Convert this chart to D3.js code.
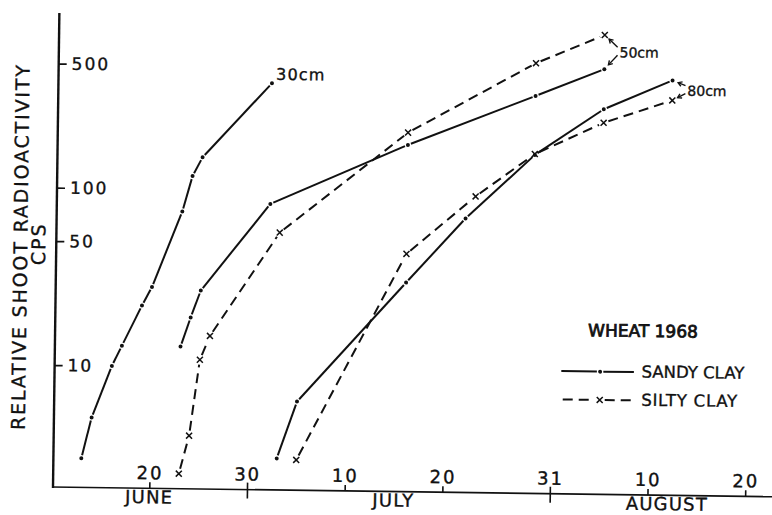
<!DOCTYPE html>
<html>
<head>
<meta charset="utf-8">
<script src="https://cdn.jsdelivr.net/npm/d3@7"></script>
<style>
  html, body { margin: 0; padding: 0; background: #fff; }
  svg { display: block; }
  text { font-family: "DejaVu Sans", sans-serif; fill: #111; stroke: #111; stroke-width: 0.35px; }
</style>
</head>
<body>
<svg id="chart" width="772" height="515"></svg>
<script>
// Wheat 1968: relative shoot radioactivity (counts per second) by sampling date,
// for tracer placed at 30, 50 and 80 cm in sandy clay and silty clay.
const sandy30Dates = ["1968-06-13", "1968-06-14", "1968-06-16", "1968-06-17", "1968-06-19", "1968-06-20", "1968-06-23", "1968-06-24", "1968-06-25", "1968-07-02"];
const sandy30Cps   = [3.0, 5.1, 10, 13, 22, 28, 75, 119, 152, 402];

const sandy50Dates = ["1968-06-23", "1968-06-24", "1968-06-25", "1968-07-02", "1968-07-16", "1968-07-29", "1968-08-05"];
const sandy50Cps   = [13, 19, 27, 84, 185, 357, 511];

const silty50Dates = ["1968-06-23", "1968-06-24", "1968-06-25", "1968-06-26", "1968-07-03", "1968-07-16", "1968-07-29", "1968-08-05"];
const silty50Cps   = [2.5, 4.1, 11, 15, 58, 217, 546, 797];

const sandy80Dates = ["1968-07-03", "1968-07-05", "1968-07-16", "1968-07-22", "1968-07-29", "1968-08-05", "1968-08-12"];
const sandy80Cps   = [3.1, 6.5, 31, 72, 166, 304, 447];

const silty80Dates = ["1968-07-05", "1968-07-16", "1968-07-23", "1968-07-29", "1968-08-05", "1968-08-12"];
const silty80Cps   = [3.05, 45, 96, 168, 255, 345];

const xTickDates  = ["1968-06-20", "1968-06-30", "1968-07-10", "1968-07-20", "1968-07-31", "1968-08-10", "1968-08-20"];
const xTickLabels = ["20", "30", "10", "20", "31", "10", "20"];
const monthEndDates = ["1968-06-30", "1968-07-31"];
const monthNames = ["JUNE", "JULY", "AUGUST"];
const monthLabelDates = ["1968-06-20", "1968-07-15", "1968-08-12"];

const yTickValues = [500, 100, 50, 10];
const yTickLabels = ["500", "100", "50", "10"];

const legendNames = ["SANDY CLAY", "SILTY CLAY"];
const legendSoils = ["sandy", "silty"];

const parse = d3.utcParse("%Y-%m-%d");

const x = d3.scaleUtc()
  .domain([parse("1968-06-20"), parse("1968-08-20")])
  .range([149.3, 745.2]);
const y = d3.scaleLog()
  .domain([2.057, 963])
  .range([487, 13]);

const INK = "#111";
const svg = d3.select("#chart");
// the whole drawing sits slightly askew on the sheet
const g = svg.append("g").attr("transform", "rotate(0.77 53 487)");

// ---- axes ----
g.append("line")
  .attr("x1", 53).attr("x2", 53).attr("y1", 13).attr("y2", 488)
  .attr("stroke", INK).attr("stroke-width", 2.4);
g.append("line")
  .attr("x1", 52).attr("x2", 800).attr("y1", 487).attr("y2", 487)
  .attr("stroke", INK).attr("stroke-width", 1.7);

const yAxis = d3.axisRight(y)
  .tickValues(yTickValues)
  .tickFormat((d, i) => yTickLabels[i])
  .tickSize(8).tickPadding(5);
const ya = g.append("g").attr("transform", "translate(53,0)").call(yAxis);
ya.select(".domain").remove();
ya.selectAll(".tick line").attr("stroke", INK).attr("stroke-width", 1.7);
ya.selectAll(".tick text")
  .attr("font-size", 17).attr("letter-spacing", 2).attr("fill", INK);

const monthEnds = new Set(monthEndDates.map(s => +parse(s)));
const xAxis = d3.axisTop(x)
  .tickValues(xTickDates.map(parse))
  .tickFormat((d, i) => xTickLabels[i])
  .tickSize(6).tickPadding(3).tickSizeOuter(0);
const xa = g.append("g").attr("transform", "translate(0,487)").call(xAxis);
xa.select(".domain").remove();
xa.selectAll(".tick line")
  .attr("stroke", INK).attr("stroke-width", 1.6)
  .attr("y1", d => monthEnds.has(+d) ? 9 : 0)
  .attr("y2", d => monthEnds.has(+d) ? -7 : -6);
xa.selectAll(".tick text")
  .attr("font-size", 18).attr("letter-spacing", 2).attr("fill", INK);

g.selectAll(".month")
  .data(monthNames)
  .join("text")
  .attr("class", "month")
  .attr("x", (d, i) => x(parse(monthLabelDates[i])))
  .attr("y", 502)
  .attr("text-anchor", "middle")
  .attr("font-size", 18)
  .attr("letter-spacing", 1.2)
  .text(d => d);

// axis title
g.append("text")
  .attr("transform", "translate(24,248) rotate(-90)")
  .attr("text-anchor", "middle")
  .attr("font-size", 19)
  .attr("textLength", 365)
  .attr("lengthAdjust", "spacing")
  .text("RELATIVE SHOOT RADIOACTIVITY");
g.append("text")
  .attr("transform", "translate(42,244) rotate(-90)")
  .attr("text-anchor", "middle")
  .attr("font-size", 19)
  .attr("letter-spacing", 2)
  .text("CPS");

// ---- series ----
const series = [
  { dates: sandy30Dates, cps: sandy30Cps, soil: "sandy" },
  { dates: sandy50Dates, cps: sandy50Cps, soil: "sandy" },
  { dates: silty50Dates, cps: silty50Cps, soil: "silty" },
  { dates: sandy80Dates, cps: sandy80Cps, soil: "sandy" },
  { dates: silty80Dates, cps: silty80Cps, soil: "silty" }
];

function brokenLine(sel, pts, soil) {
  const gap = soil === "sandy" ? 3.2 : 5;
  for (let i = 0; i < pts.length - 1; i++) {
    const [x0, y0] = pts[i], [x1, y1] = pts[i + 1];
    const L = Math.hypot(x1 - x0, y1 - y0);
    const ux = (x1 - x0) / L, uy = (y1 - y0) / L;
    sel.append("line")
      .attr("x1", x0 + ux * gap).attr("y1", y0 + uy * gap)
      .attr("x2", x1 - ux * gap).attr("y2", y1 - uy * gap)
      .attr("stroke", INK).attr("stroke-width", 2)
      .attr("stroke-linecap", "butt")
      .attr("stroke-dasharray", soil === "silty" ? "10,6" : null);
  }
}

function marker(sel, px, py, soil) {
  if (soil === "sandy") {
    sel.append("circle").attr("cx", px).attr("cy", py).attr("r", 2).attr("fill", INK);
  } else {
    const s = 3;
    sel.append("path")
      .attr("d", `M${px - s},${py - s}L${px + s},${py + s}M${px - s},${py + s}L${px + s},${py - s}`)
      .attr("stroke", INK).attr("stroke-width", 1.5).attr("fill", "none");
  }
}

series.forEach(s => {
  const pts = s.dates.map((d, i) => [x(parse(d)), y(s.cps[i])]);
  s.pts = pts;
  const sg = g.append("g");
  brokenLine(sg, pts, s.soil);
  pts.forEach(p => marker(sg, p[0], p[1], s.soil));
});

// ---- depth labels ----
function arrow(sel, ax, ay, bx, by) {
  sel.append("line").attr("x1", ax).attr("y1", ay).attr("x2", bx).attr("y2", by)
    .attr("stroke", INK).attr("stroke-width", 1.4);
  const a = Math.atan2(ay - by, ax - bx), h = 4.5, w = 0.55;
  sel.append("path")
    .attr("d", `M${bx + h * Math.cos(a + w)},${by + h * Math.sin(a + w)}L${bx},${by}L${bx + h * Math.cos(a - w)},${by + h * Math.sin(a - w)}`)
    .attr("stroke", INK).attr("stroke-width", 1.4).attr("fill", "none");
}

const last30 = series[0].pts[series[0].pts.length - 1];
g.append("text")
  .attr("x", last30[0] + 4).attr("y", last30[1] - 3.5)
  .attr("font-size", 16).attr("letter-spacing", 1.2)
  .text("30cm");

function pairLabel(text, upper, lower) {
  const pu = upper.pts[upper.pts.length - 1];
  const pl = lower.pts[lower.pts.length - 1];
  const mid = (pu[1] + pl[1]) / 2;
  const lx = Math.max(pu[0], pl[0]) + 15;
  const ag = g.append("g");
  [[pu, mid - 5], [pl, mid + 3]].forEach(([p, sy]) => {
    const sx = lx - 2;
    const L = Math.hypot(sx - p[0], sy - p[1]);
    const ex = p[0] + (sx - p[0]) * 6 / L, ey = p[1] + (sy - p[1]) * 6 / L;
    arrow(ag, sx, sy, ex, ey);
  });
  ag.append("text").attr("x", lx).attr("y", mid + 5)
    .attr("font-size", 14).text(text);
}
pairLabel("50cm", series[2], series[1]);
pairLabel("80cm", series[3], series[4]);

// ---- legend ----
g.append("text")
  .attr("x", 586).attr("y", 329)
  .attr("font-size", 17)
  .style("stroke-width", "0.8px")
  .text("WHEAT 1968");

const legendRowY = [364.3, 392.6];
legendNames.forEach((name, i) => {
  const ly = legendRowY[i];
  const lg = g.append("g");
  const soil = legendSoils[i];
  brokenLine(lg, [[556.5, ly], [598.5, ly], [635.5, ly]], soil);
  marker(lg, 598.5, ly, soil);
  lg.append("text").attr("x", 640).attr("y", ly + 5.2)
    .attr("font-size", 16.5).attr("letter-spacing", soil === "silty" ? 0.8 : 0)
    .text(name);
});
</script>
</body>
</html>
